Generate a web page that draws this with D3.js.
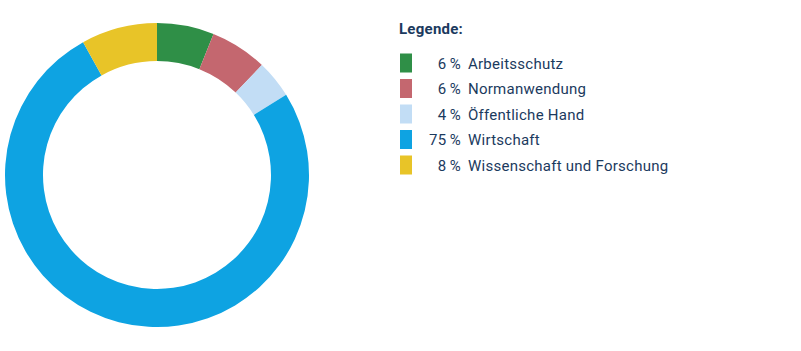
<!DOCTYPE html>
<html>
<head>
<meta charset="utf-8">
<script src="https://cdn.jsdelivr.net/npm/d3@7"></script>
<style>
  body { margin: 0; background: #fff; }
  text { font-family: "Roboto", "DejaVu Sans", sans-serif; fill: #1b3a5e; letter-spacing: 0.25px; }
</style>
</head>
<body>
<div id="chart"></div>
<script>
    // data
    categories = ["Arbeitsschutz", "Normanwendung", "Öffentliche Hand", "Wirtschaft", "Wissenschaft und Forschung"]
    values = [6, 6, 4, 75, 8]
    colors = ["#2f8f47", "#c4676f", "#c2ddf5", "#0ea3e2", "#e8c428"]

    canvas = ({width: 801, height: 351})
    center = ({x: 157, y: 175})
    outerR = 152
    innerR = 114

    var svg = d3.select("#chart").append("svg")
        .attr("width", canvas.width)
        .attr("height", canvas.height)

    pie = d3.pie().sort(null).value(d => d)
    arc = d3.arc().innerRadius(innerR).outerRadius(outerR)

    svg.append("g")
        .attr("transform", `translate(${center.x},${center.y})`)
        .selectAll("path")
        .data(pie(values))
        .join("path")
        .attr("fill", (d, i) => colors[i])
        .attr("d", arc)

    // legend
    legend = svg.append("g").attr("transform", "translate(399,0)")

    legend.append("text")
        .attr("x", 0)
        .attr("y", 34)
        .attr("font-size", 15)
        .attr("font-weight", "bold")
        .text("Legende:")

    rowY = d3.scaleLinear().domain([0, 1]).range([63, 88.5])

    rows = legend.selectAll("g.row")
        .data(categories)
        .join("g")
        .attr("class", "row")
        .attr("transform", (d, i) => `translate(0,${rowY(i)})`)

    rows.append("rect")
        .attr("x", 1)
        .attr("y", -9.5)
        .attr("width", 12)
        .attr("height", 19)
        .attr("fill", (d, i) => colors[i])

    rows.append("text")
        .attr("x", 62)
        .attr("y", 5.5)
        .attr("font-size", 15)
        .attr("text-anchor", "end")
        .text((d, i) => values[i] + "\u2009%")

    rows.append("text")
        .attr("x", 69)
        .attr("y", 5.5)
        .attr("font-size", 15)
        .text(d => d)
</script>
</body>
</html>
